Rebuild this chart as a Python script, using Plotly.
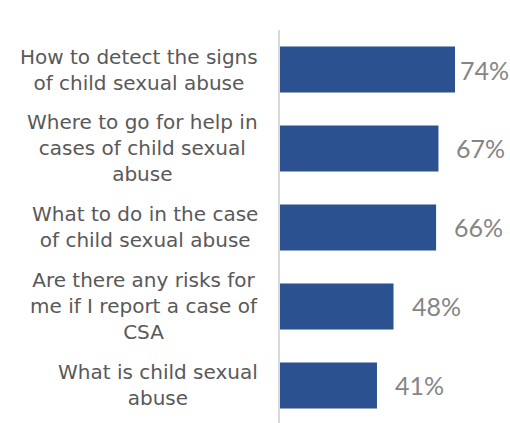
import plotly.graph_objects as go

# Survey topics (top to bottom) and share of respondents, in percent
topics = [
    "How to detect the signs<br>of child sexual abuse",
    "Where to go for help in<br>cases of child sexual<br>abuse",
    "What to do in the case<br>of child sexual abuse",
    "Are there any risks for<br>me if I report a case of<br>CSA",
    "What is child sexual<br>abuse",
]
shares = [74, 67, 66, 48, 41]
value_labels = ["74%", "67%", "66%", "48%", "41%"]

BAR_COLOR = "#2C5190"
LABEL_COLOR = "#595959"
VALUE_COLOR = "#858585"
LABEL_FONT = "'DejaVu Sans', sans-serif"
VALUE_FONT = "Lato, sans-serif"

W, H = 510, 423
LEFT, TOP = 280, 30
X_MAX = 97.25  # percent shown across the plot width

positions = list(range(len(topics)))

fig = go.Figure(
    go.Bar(
        x=shares,
        y=positions,
        orientation="h",
        width=0.58,
        marker=dict(color=BAR_COLOR, line=dict(width=0)),
        hoverinfo="skip",
    )
)

annotations = []
# category labels: right-aligned block, centred lines
for pos, text in zip(positions, topics):
    annotations.append(
        dict(
            x=0, xref="paper", y=pos, yref="y",
            text=text, showarrow=False,
            xanchor="right", yanchor="middle", align="center",
            xshift=-20,
            font=dict(family=LABEL_FONT, size=20, color=LABEL_COLOR),
        )
    )

# value labels beyond the bar ends, pulled in when space runs out
px_per_unit = (W - LEFT) / X_MAX
label_w = 50
for pos, val, txt in zip(positions, shares, value_labels):
    end_px = LEFT + val * px_per_unit
    shift = min(16, W - 2 - label_w - end_px)
    annotations.append(
        dict(
            x=val, xref="x", y=pos, yref="y",
            text=txt, showarrow=False,
            xanchor="left", yanchor="middle",
            xshift=shift,
            font=dict(family=VALUE_FONT, size=25, color=VALUE_COLOR),
        )
    )

fig.update_layout(
    width=W, height=H,
    margin=dict(l=LEFT, r=0, t=TOP, b=0, pad=0),
    paper_bgcolor="white",
    plot_bgcolor="white",
    showlegend=False,
    annotations=annotations,
    xaxis=dict(range=[0, X_MAX], visible=False, fixedrange=True),
    yaxis=dict(
        range=[4.475, -0.5],
        showticklabels=False,
        showgrid=False,
        zeroline=False,
        showline=True,
        linecolor="#D9D9D9",
        linewidth=1.5,
        ticks="",
        fixedrange=True,
    ),
)

fig.write_html("out.html")
